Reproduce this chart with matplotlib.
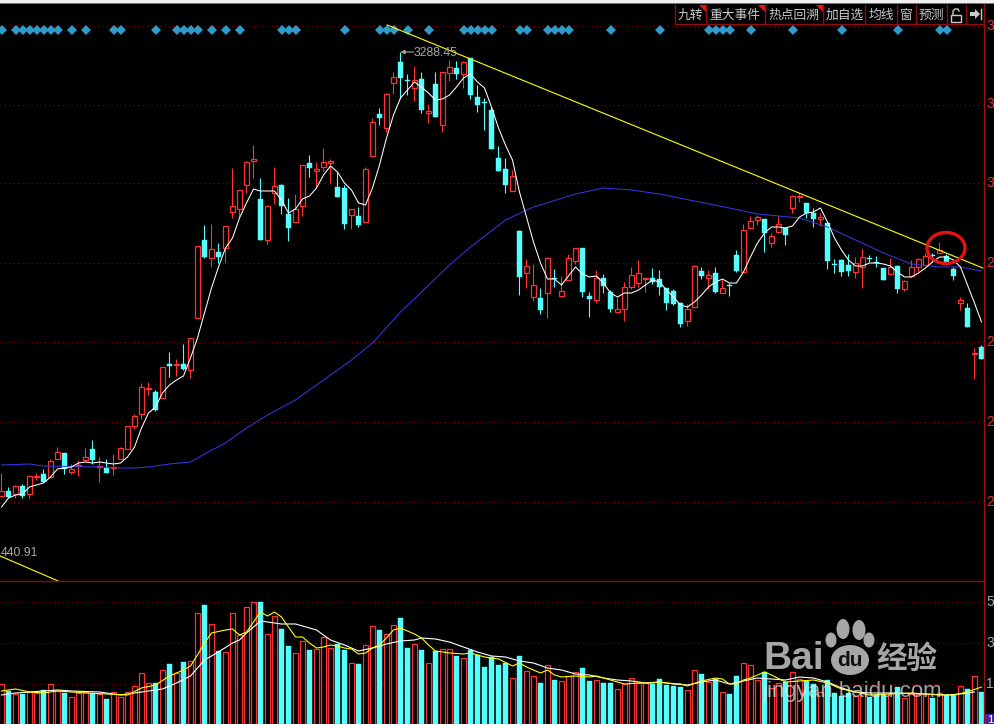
import numpy as np
import matplotlib
matplotlib.use("Agg")
import matplotlib.pyplot as plt
from matplotlib.patches import Ellipse, Polygon, Rectangle

OPEN = [2400, 2410, 2404, 2420, 2404, 2438, 2444, 2438, 2474, 2486,
        2448, 2460, 2472, 2494, 2458, 2456, 2456, 2474, 2494, 2540,
        2564, 2614, 2608, 2596, 2664, 2662, 2664, 2652, 2756, 2912,
        2876, 2888, 2896, 2968, 2974, 3022, 3070, 2994, 2912, 3006,
        3022, 2964, 2948, 2980, 3066, 3050, 3058, 3066, 3018, 3016,
        2962, 2960, 2948, 3080, 3164, 3136, 3226, 3268, 3232, 3216,
        3234, 3166, 3224, 3142, 3246, 3256, 3244, 3276, 3198, 3188,
        3172, 3076, 3054, 3010, 2930, 2846, 2798, 2796, 2806, 2836,
        2800, 2832, 2870, 2896, 2800, 2792, 2836, 2808, 2768, 2774,
        2818, 2826, 2834, 2836, 2834, 2816, 2810, 2786, 2750, 2778,
        2850, 2836, 2846, 2806, 2822, 2882, 2848, 2936, 2952, 2954,
        2906, 2928, 2936, 2976, 2998, 2986, 2966, 2954, 2946, 2864,
        2872, 2862, 2848, 2858, 2876, 2868, 2856, 2844, 2860, 2814,
        2840, 2858, 2862, 2882, 2886, 2880, 2854, 2786, 2776, 2684, 2698]
CLOSE = [2410, 2398, 2420, 2400, 2440, 2440, 2428, 2470, 2488, 2454,
         2454, 2462, 2478, 2472, 2460, 2446, 2458, 2496, 2540, 2560,
         2618, 2616, 2572, 2658, 2660, 2664, 2654, 2716, 2900, 2878,
         2894, 2878, 2940, 2980, 3012, 3068, 3074, 2912, 2980, 3020,
         2980, 2936, 2974, 3062, 3056, 3054, 3068, 3070, 2998, 2944,
         2974, 2942, 3054, 3148, 3156, 3204, 3238, 3236, 3230, 3232,
         3172, 3170, 3158, 3248, 3258, 3244, 3268, 3202, 3182, 3186,
         3094, 3050, 3022, 3040, 2838, 2860, 2822, 2772, 2876, 2834,
         2810, 2876, 2896, 2808, 2794, 2836, 2820, 2774, 2774, 2818,
         2842, 2846, 2836, 2828, 2818, 2786, 2784, 2744, 2774, 2860,
         2840, 2842, 2808, 2816, 2820, 2850, 2932, 2950, 2958, 2926,
         2920, 2944, 2922, 3000, 3000, 2966, 2954, 2958, 2870, 2862,
         2848, 2850, 2866, 2878, 2874, 2866, 2832, 2858, 2814, 2830,
         2858, 2874, 2880, 2880, 2892, 2868, 2840, 2792, 2738, 2686, 2674]
HIGH = [2446, 2418, 2422, 2424, 2442, 2446, 2454, 2474, 2498, 2486,
        2464, 2472, 2496, 2512, 2478, 2474, 2484, 2498, 2540, 2564,
        2626, 2628, 2612, 2658, 2688, 2674, 2704, 2716, 2900, 2942,
        2944, 2906, 2940, 3056, 3012, 3070, 3102, 3036, 2982, 3058,
        3024, 2996, 3004, 3062, 3082, 3068, 3096, 3074, 3048, 3022,
        2974, 2978, 3058, 3156, 3176, 3206, 3248, 3288, 3244, 3260,
        3248, 3184, 3248, 3248, 3272, 3270, 3270, 3276, 3222, 3196,
        3178, 3100, 3076, 3052, 2932, 2874, 2864, 2816, 2878, 2854,
        2840, 2884, 2896, 2896, 2808, 2852, 2844, 2812, 2798, 2828,
        2858, 2872, 2838, 2856, 2852, 2816, 2814, 2788, 2784, 2862,
        2858, 2852, 2858, 2834, 2826, 2892, 2944, 2960, 2962, 2954,
        2926, 2960, 2938, 3002, 3006, 2986, 2976, 2966, 2946, 2874,
        2874, 2884, 2878, 2894, 2882, 2880, 2856, 2876, 2862, 2832,
        2872, 2876, 2886, 2886, 2908, 2884, 2858, 2798, 2786, 2696, 2702]
LOW = [2400, 2396, 2396, 2396, 2396, 2432, 2428, 2436, 2474, 2444,
       2444, 2440, 2470, 2464, 2428, 2446, 2442, 2474, 2494, 2534,
       2554, 2602, 2570, 2596, 2638, 2640, 2652, 2636, 2756, 2876,
       2858, 2866, 2866, 2956, 2958, 3006, 3036, 2912, 2904, 2984,
       2964, 2910, 2948, 2960, 3038, 3016, 3050, 3026, 2998, 2934,
       2934, 2938, 2948, 3080, 3142, 3128, 3204, 3194, 3202, 3190,
       3166, 3146, 3158, 3128, 3230, 3234, 3216, 3194, 3168, 3132,
       3094, 3050, 3006, 3010, 2802, 2816, 2790, 2764, 2756, 2818,
       2800, 2832, 2864, 2798, 2758, 2786, 2806, 2768, 2768, 2750,
       2814, 2818, 2808, 2824, 2802, 2772, 2782, 2738, 2740, 2778,
       2834, 2814, 2806, 2806, 2800, 2848, 2848, 2936, 2942, 2888,
       2898, 2928, 2902, 2966, 2988, 2956, 2938, 2940, 2854, 2846,
       2840, 2840, 2836, 2816, 2868, 2858, 2832, 2844, 2806, 2810,
       2838, 2848, 2862, 2868, 2886, 2862, 2832, 2772, 2738, 2634, 2674]
MA_SHORT = [2378, 2396, 2402, 2404, 2418, 2422, 2426, 2438, 2454, 2456,
            2458, 2466, 2468, 2466, 2468, 2466, 2464, 2466, 2478, 2498,
            2536, 2566, 2578, 2606, 2622, 2632, 2640, 2676, 2716, 2766,
            2816, 2858, 2896, 2916, 2956, 2986, 3014, 3010, 3010, 3010,
            2992, 2966, 2974, 2994, 3000, 3016, 3042, 3060, 3048, 3026,
            3012, 2986, 2982, 3016, 3062, 3116, 3162, 3196, 3212, 3228,
            3218, 3206, 3192, 3194, 3202, 3218, 3236, 3244, 3228, 3216,
            3178, 3136, 3102, 3072, 3008, 2958, 2908, 2866, 2834, 2834,
            2822, 2840, 2858, 2844, 2838, 2840, 2826, 2806, 2798, 2806,
            2806, 2812, 2822, 2832, 2828, 2812, 2798, 2782, 2778, 2788,
            2802, 2818, 2828, 2834, 2826, 2826, 2848, 2878, 2906, 2926,
            2938, 2938, 2936, 2940, 2958, 2966, 2968, 2976, 2948, 2916,
            2892, 2872, 2860, 2860, 2866, 2866, 2864, 2860, 2848, 2838,
            2838, 2846, 2856, 2868, 2878, 2878, 2872, 2858, 2822, 2786, 2748]
MA_LONG_IDX = [0, 4, 6, 14, 17, 19, 21, 24, 27, 29, 32, 35, 38, 42, 46, 50, 53, 57, 60,
               64, 67, 72, 76, 82, 86, 90, 94, 104, 108, 114, 118, 122, 126, 130, 134, 137, 140]
MA_LONG = [2462, 2464, 2460, 2458, 2456, 2456, 2458, 2464, 2468, 2484, 2506, 2536, 2562, 2592, 2632, 2672, 2706, 2768, 2808,
           2862, 2898, 2952, 2978, 3004, 3016, 3012, 3004, 2976, 2964, 2956, 2938, 2912, 2886, 2864, 2858, 2858, 2850]
VOLUME = [210, 175, 160, 160, 170, 165, 180, 210, 175, 165,
          145, 165, 170, 165, 160, 135, 170, 145, 170, 200,
          265, 215, 215, 280, 310, 265, 320, 325, 565, 605,
          510, 375, 370, 565, 455, 595, 620, 620, 460, 550,
          485, 400, 365, 425, 380, 385, 445, 390, 410, 380,
          315, 310, 405, 500, 480, 460, 505, 540, 390, 410,
          380, 315, 375, 385, 385, 350, 340, 380, 355, 295,
          345, 305, 315, 240, 350, 275, 250, 215, 305, 230,
          225, 250, 270, 290, 225, 230, 215, 215, 185, 210,
          240, 215, 215, 210, 235, 205, 200, 195, 180, 280,
          260, 220, 235, 170, 160, 250, 315, 305, 230, 270,
          190, 215, 220, 270, 235, 225, 210, 170, 230, 165,
          150, 165, 150, 165, 145, 155, 155, 165, 195, 140,
          160, 160, 160, 140, 165, 155, 155, 200, 185, 250, 170]
VOL_MA1_IDX = [0, 2, 4, 6, 8, 10, 12, 15, 18, 20, 22, 24, 26, 27, 28, 29, 30, 32, 33, 34, 35, 36, 37, 38, 39,
               40, 41, 42, 43, 44, 45, 46, 47, 48, 49, 50, 51, 52, 53, 54, 55, 56, 57, 58, 59, 60, 61, 62, 64,
               66, 67, 69, 71, 73, 74, 75, 77, 78, 79, 80, 82, 84, 85, 87, 89, 91, 93, 94, 95, 97, 98, 100,
               102, 103, 104, 105, 106, 107, 109, 110, 112, 114, 116, 118, 120, 122, 124, 127, 130, 134, 136, 138, 140]
VOL_MA1 = [175, 185, 170, 165, 175, 170, 165, 160, 155, 190, 205, 250, 280, 300, 355, 415, 465, 480, 485, 455, 470, 520, 570, 550, 570,
           545, 495, 445, 445, 415, 390, 395, 405, 400, 390, 385, 360, 365, 390, 405, 440, 480, 490, 475, 460, 440, 405, 375, 365,
           360, 365, 345, 335, 300, 315, 295, 265, 280, 255, 245, 250, 245, 250, 230, 210, 215, 215, 220, 215, 210, 200, 225,
           240, 235, 210, 210, 230, 240, 270, 255, 220, 225, 230, 215, 185, 170, 155, 160, 165, 155, 155, 170, 195]
VOL_MA2_IDX = [0, 2, 4, 8, 10, 14, 17, 19, 21, 23, 25, 27, 29, 31, 33, 34, 35, 36, 37, 38, 40, 42, 43, 45, 47, 49,
               51, 53, 55, 57, 59, 60, 62, 64, 66, 68, 70, 72, 74, 76, 78, 80, 82, 84, 86, 88, 90, 92, 94, 96, 98,
               100, 102, 104, 106, 108, 110, 112, 114, 116, 118, 120, 122, 124, 128, 132, 135, 137, 139]
VOL_MA2 = [155, 165, 170, 180, 175, 170, 155, 165, 175, 185, 215, 250, 330, 370, 415, 430, 465, 495, 525, 520, 510, 510, 500, 480, 430, 405,
           375, 390, 410, 425, 430, 440, 435, 420, 395, 370, 350, 345, 325, 315, 290, 280, 260, 255, 240, 230, 225, 215, 220, 210, 205,
           220, 230, 210, 225, 240, 235, 230, 245, 240, 220, 190, 170, 165, 165, 160, 155, 160, 170]
SIGNAL_IDX = [0, 2, 3, 4, 5, 6, 7, 8, 10, 12, 16, 17, 22, 25, 26, 27, 28, 30, 32, 34, 40, 41, 42,
              49, 54, 55, 56, 58, 61, 66, 67, 68, 69, 70, 74, 75, 78, 79, 80, 81, 87, 94,
              101, 102, 103, 104, 107, 113, 120, 128, 134, 135]
SIGNAL_LEVEL = 3333
TREND_IDX = [55.1, 140.2]
TREND_VAL = [3342, 2856]
OLD_TREND_IDX = [-0.2, 8.1]
OLD_TREND_VAL = [2280, 2230]
PRICE_GRID = [3340, 3183, 3026, 2866, 2708, 2548, 2388]
PRICE_LABELS = ["3", "3", "3", "2", "2", "2", "2"]
VOL_GRID = [620, 415, 210]
VOL_LABELS = ["5", "3", "1"]
TAB_EDGES = [674.7, 705.7, 764.7, 823.3, 865.3, 896.7, 915.7, 946.7, 965.7, 984.3]
TAB_TEXT = ["九转", "重大事件", "热点回溯", "加自选", "均线", "窗", "预测"]

RED = "#ff3232"
CYAN = "#54ffff"
GRID = "#8c0000"
W, H = 994, 724
CHART_R = 984

plt.rcParams["font.family"] = ["Liberation Sans", "Noto Sans CJK SC", "DejaVu Sans"]
fig = plt.figure(figsize=(W / 100, H / 100), dpi=100, facecolor="black")


def px_axes(left, top, right, bottom):
    return fig.add_axes([left / W, 1 - bottom / H, (right - left) / W, (bottom - top) / H],
                        facecolor="black")


x = np.arange(len(OPEN))
x_lim = (-0.214, 140.36)
up = np.array(CLOSE) >= np.array(OPEN)

# price panel
ax = px_axes(0, 14, CHART_R, 581)
ax.set_xlim(*x_lim)
ax.set_ylim(2230, 3364)
ax.axis("off")
for g in PRICE_GRID:
    ax.axhline(g, color=GRID, lw=0.8, ls=(0, (1, 3)), zorder=1)
ax.vlines(x, LOW, HIGH, colors=[RED if u else CYAN for u in up], lw=0.8, zorder=2)
bottoms = np.minimum(OPEN, CLOSE)
heights = np.abs(np.array(CLOSE) - np.array(OPEN))
ax.bar(x[up], heights[up], bottom=bottoms[up], width=0.62, facecolor="black",
       edgecolor=RED, lw=0.9, zorder=3)
ax.bar(x[~up], heights[~up], bottom=bottoms[~up], width=0.72, facecolor=CYAN,
       edgecolor=CYAN, lw=0.3, zorder=3)
ax.plot(MA_LONG_IDX, MA_LONG, color="#3838f0", lw=0.7, zorder=4)
ax.plot(x, MA_SHORT, color="white", lw=0.75, zorder=5)
ax.plot(TREND_IDX, TREND_VAL, color="#ffff00", lw=0.8, zorder=5)
ax.plot(OLD_TREND_IDX, OLD_TREND_VAL, color="#ffff00", lw=0.8, zorder=5)
ax.plot(np.array(SIGNAL_IDX) + 0.12, [SIGNAL_LEVEL] * len(SIGNAL_IDX), ls="none", marker="D", ms=5.6,
        mfc="#2e9bcb", mec="#2e9bcb", mew=0, zorder=4)
ax.text(58.9, 3285, "3288.45", fontsize=8.8, color="#a8a8a8", va="center", ha="left", zorder=6)
ax.annotate("", xy=(57, 3288), xytext=(58.9, 3288),
            arrowprops=dict(arrowstyle="-|>", color="#a8a8a8", lw=0.8, mutation_scale=6,
                            shrinkA=0, shrinkB=0), zorder=6)
ax.text(-0.1, 2286, "440.91", fontsize=8.8, color="#a8a8a8", va="center", ha="left", zorder=6)

# volume panel, its zero line sits just under the crop
vax = px_axes(0, 582, CHART_R, H)
vax.set_xlim(*x_lim)
vax.set_ylim(10, 720)
vax.axis("off")
for g in VOL_GRID:
    vax.axhline(g, color=GRID, lw=0.8, ls=(0, (1, 3)), zorder=1)
vol = np.array(VOLUME)
vax.bar(x[up], vol[up], width=0.62, facecolor="black", edgecolor=RED, lw=0.9, zorder=2)
vax.bar(x[~up], vol[~up], width=0.72, facecolor=CYAN, edgecolor=CYAN, lw=0.3, zorder=2)
vax.plot(VOL_MA2_IDX, VOL_MA2, color="white", lw=0.8, zorder=3)
vax.plot(VOL_MA1_IDX, VOL_MA1, color="#ffff00", lw=0.8, zorder=4)

# overlay in pixel units for the terminal furniture and the watermark
top = fig.add_axes([0, 0, 1, 1], facecolor="none")
top.set_xlim(0, W)
top.set_ylim(H, 0)
top.axis("off")
top.add_patch(Rectangle((0, 0), W, 4, facecolor="#f0f0f0", edgecolor="none"))
top.add_patch(Rectangle((0, 3.4), W, 1, facecolor="#777777", edgecolor="none"))
top.plot([CHART_R, CHART_R], [4, H], color="#a01010", lw=1.0)
top.plot([0, CHART_R], [581, 581], color="#8c0f0f", lw=1.0)
top.plot([TAB_EDGES[0], CHART_R], [24, 24], color="#8c0f0f", lw=1.0)
for e in TAB_EDGES:
    top.plot([e, e], [5, 24], color="#8c0f0f", lw=1.0)
for left, right, label in zip(TAB_EDGES[:-1], TAB_EDGES[1:], TAB_TEXT):
    top.text((left + right) / 2, 15, label, color="#c8c8c8", fontsize=9.2, ha="center", va="center",
             family=["Noto Sans CJK SC", "DejaVu Sans"])
for e in TAB_EDGES[1:4]:
    top.add_patch(Polygon([[e - 7, 5], [e, 5], [e, 12]], closed=True, facecolor="#f01010", edgecolor="none"))
# lock and arrow icons
top.add_patch(Rectangle((951, 15), 10, 7, facecolor="none", edgecolor="#c8c8c8", lw=1.0))
top.plot([953, 953, 955, 958, 959], [15, 11, 9, 9, 11], color="#c8c8c8", lw=1.0)
top.add_patch(Polygon([[970, 12], [975, 12], [975, 9], [980, 14], [975, 19], [975, 16], [970, 16]],
                      closed=True, facecolor="#c8c8c8", edgecolor="none"))
top.plot([981, 981], [9, 19], color="#c8c8c8", lw=1.0)

for label, ypx in zip(PRICE_LABELS, [26, 104, 183, 263, 342, 422, 502]):
    top.text(986, ypx, label, color="#e83030", fontsize=10, ha="left", va="center")
for label, ypx in zip(VOL_LABELS, [602, 643, 684]):
    top.text(986, ypx, label, color="#a0a8b8", fontsize=10, ha="left", va="center")
top.add_patch(Rectangle((985, 714), 9, 10, facecolor="#4a1fa8", edgecolor="none"))
top.text(987, 720, "1", color="white", fontsize=8, ha="left", va="center")

# the circle marked by the author
top.add_patch(Ellipse((946, 248), 38, 31, facecolor="none", edgecolor="#e41212", lw=2.4))

# Baidu watermark
wm = "#c4c4c4"
top.text(763, 659, "Bai", color=wm, alpha=0.85, fontsize=28, weight="bold", ha="left", va="center",
         family="Liberation Sans")
for cx, cy, rx, ry in [(843, 629, 6.5, 10), (859, 630, 6.5, 10), (831, 640, 5.5, 7.5), (869, 640, 5.5, 7.5)]:
    top.add_patch(Ellipse((cx, cy), rx * 2, ry * 2, facecolor=wm, edgecolor="none", alpha=0.85))
top.add_patch(Ellipse((850, 660), 38, 30, facecolor=wm, edgecolor="none", alpha=0.85))
top.text(850, 661, "du", color="#101010", fontsize=15, weight="bold", ha="center", va="center",
         family="Liberation Sans")
top.text(907, 659, "经验", color=wm, alpha=0.85, fontsize=22, weight="bold", ha="center", va="center",
         family="Noto Sans CJK SC")
top.text(763, 691, "jingyan.baidu.com", color="#e4e4e4", alpha=0.7, fontsize=16, ha="left", va="center",
         family="Liberation Sans")

fig.savefig("out.png", dpi=100, facecolor="black")
